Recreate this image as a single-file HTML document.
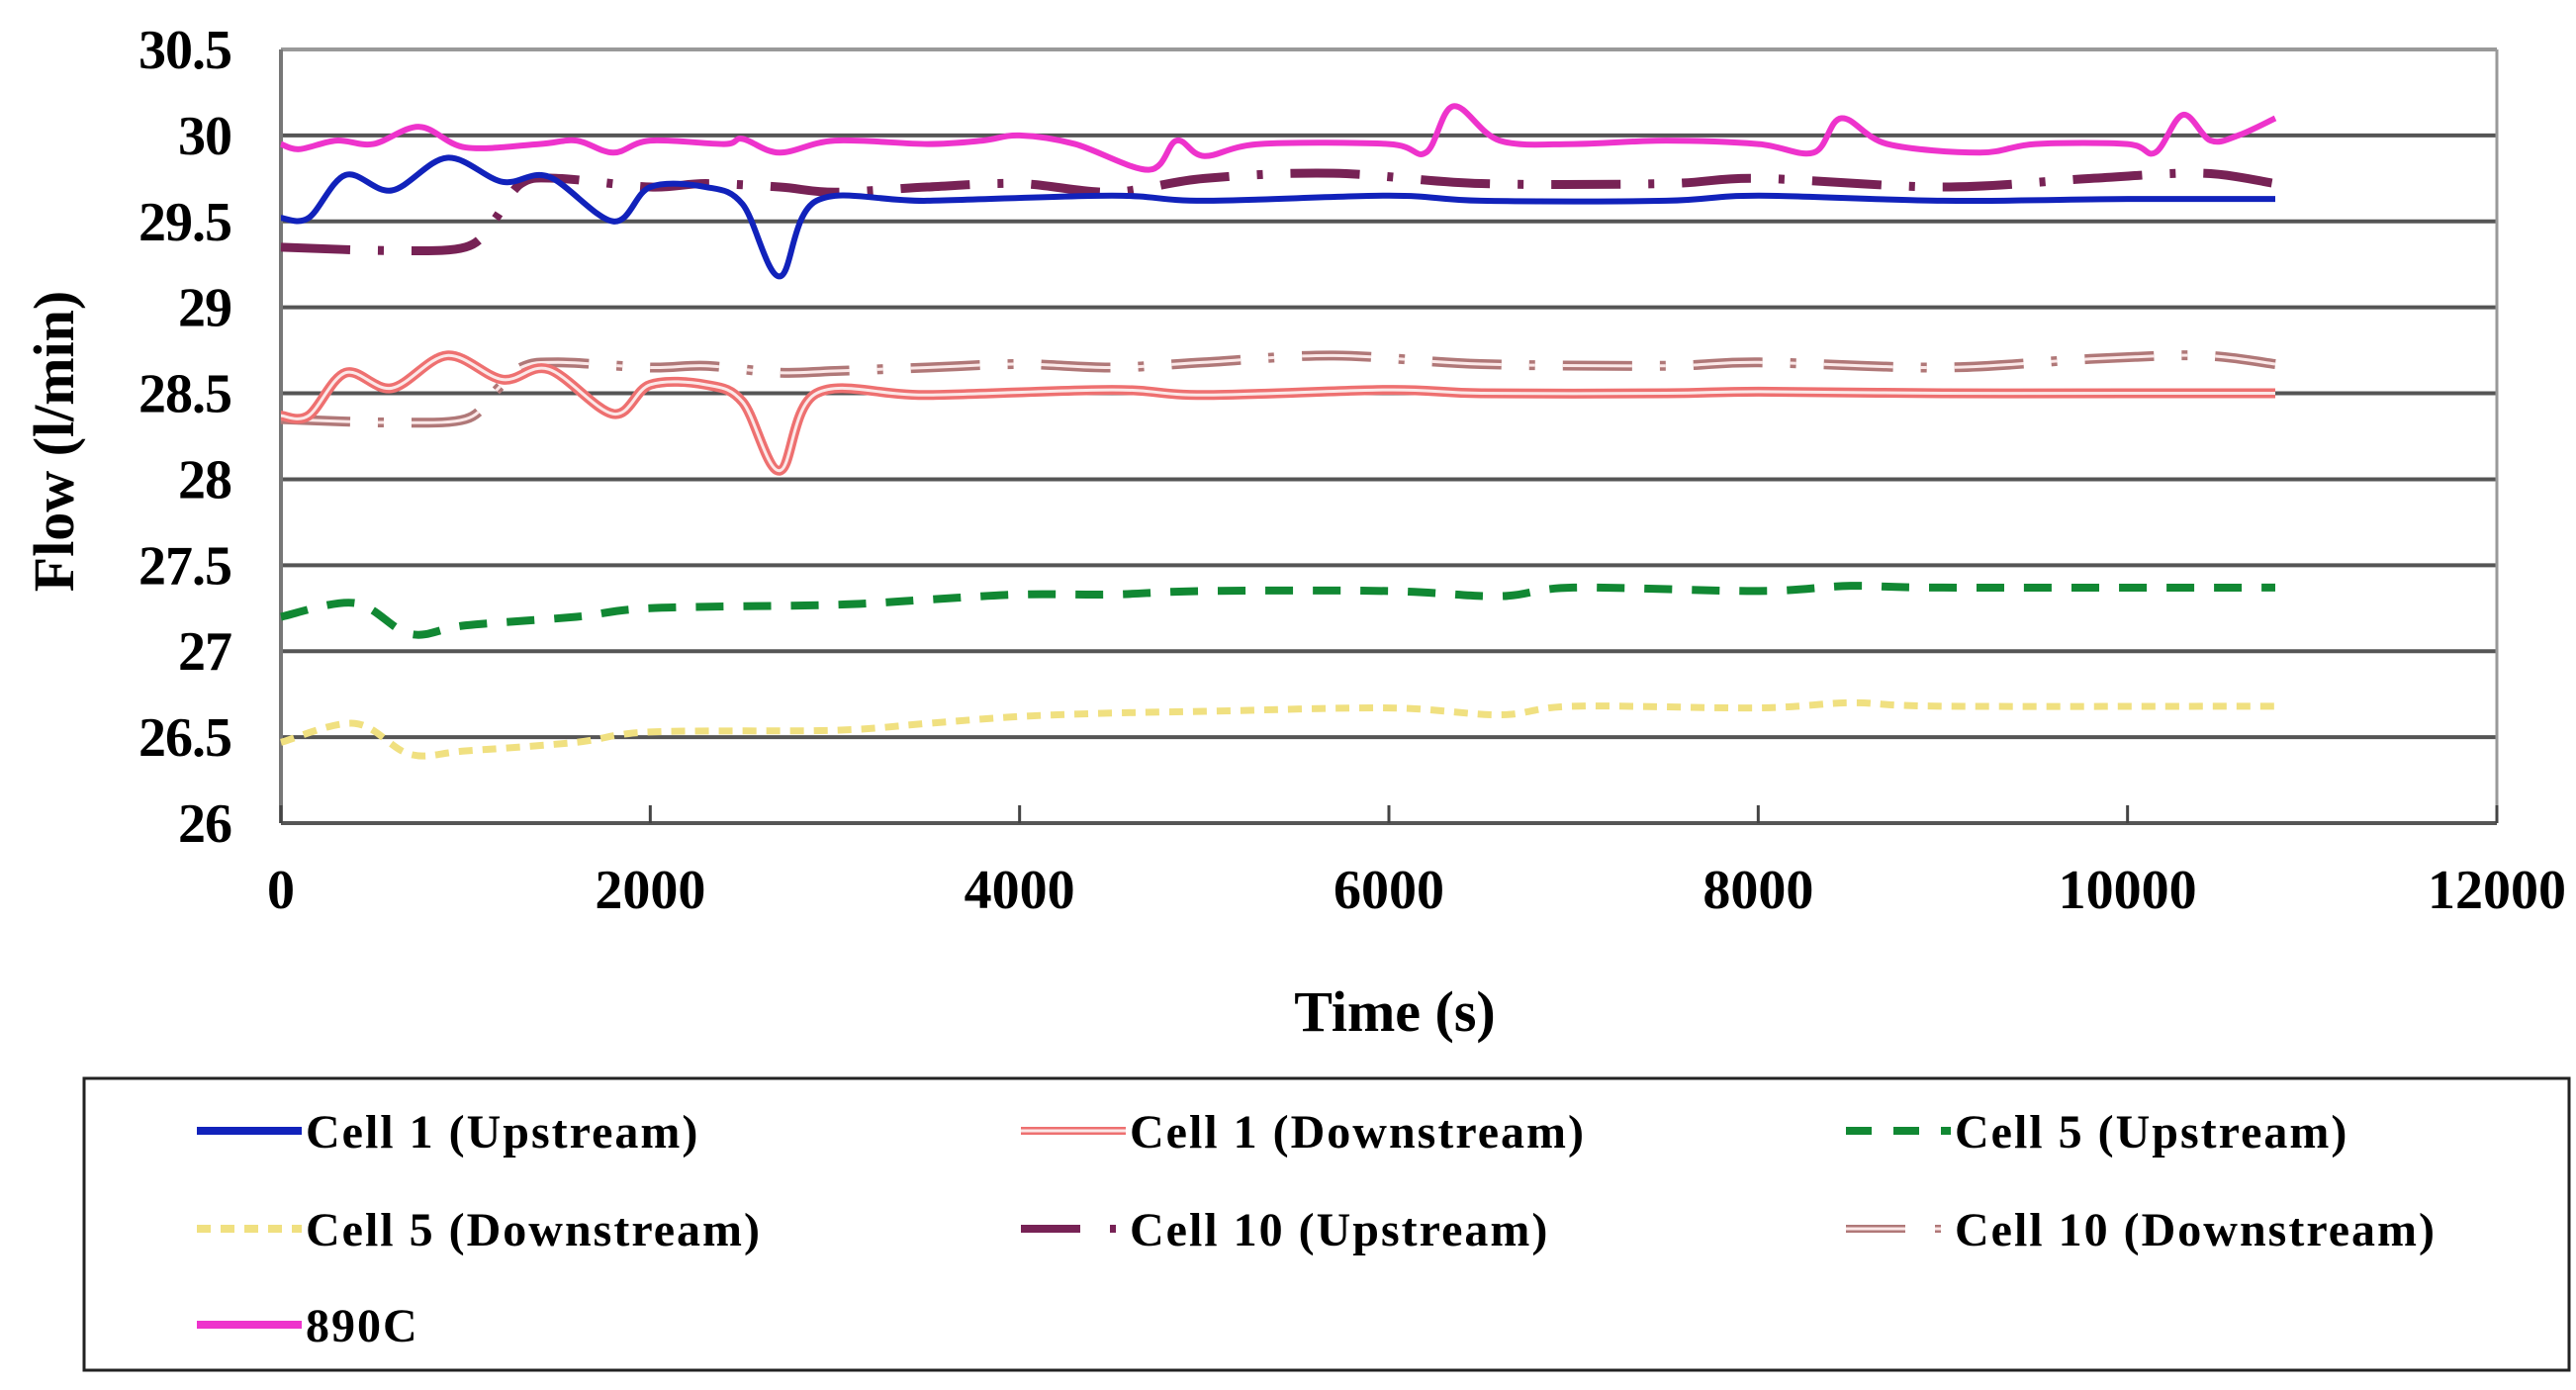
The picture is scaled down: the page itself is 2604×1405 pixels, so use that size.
<!DOCTYPE html>
<html><head><meta charset="utf-8"><style>
html,body{margin:0;padding:0;background:#fff;}
svg{display:block;}
text{font-family:"Liberation Serif",serif;font-weight:bold;fill:#000;}
</style></head><body>
<svg id="chart" width="2604" height="1405" viewBox="0 0 2604 1405" xmlns="http://www.w3.org/2000/svg">
<g id="grid"></g>
<g id="axes"></g>
<g id="series"></g>
<text x="1410" y="1042" font-size="58" text-anchor="middle">Time  (s)</text>
<text transform="translate(74,446) rotate(-90)" font-size="58" text-anchor="middle">Flow (l/min)</text>
<rect x="85" y="1090" width="2512" height="295" fill="#fff" stroke="#222" stroke-width="3"/>
<g id="legend"></g>
</svg>
<script>
const xTicks=[0,2000,4000,6000,8000,10000,12000];
const yTicks=[26,26.5,27,27.5,28,28.5,29,29.5,30,30.5];
const t890=[0,100,300,500,750,1000,1400,1600,1800,2000,2400,2500,2700,3000,3500,3800,4000,4300,4700,4850,5000,5300,6000,6200,6350,6600,7000,7500,8000,8300,8450,8700,9200,9500,10000,10150,10300,10450,10600,10800];
const v890=[29.95,29.92,29.97,29.95,30.05,29.93,29.95,29.97,29.9,29.97,29.95,29.98,29.9,29.97,29.95,29.97,30.0,29.95,29.8,29.97,29.88,29.95,29.95,29.9,30.17,29.97,29.95,29.97,29.95,29.9,30.1,29.95,29.9,29.95,29.95,29.9,30.12,29.97,30.0,30.1];
const tC1=[0,150,350,600,900,1200,1450,1800,2000,2300,2500,2700,2900,3500,4500,5000,6000,6500,7500,8000,9000,10000,10800];
const vC1Up=[29.52,29.52,29.77,29.68,29.87,29.73,29.76,29.5,29.7,29.7,29.6,29.18,29.62,29.62,29.65,29.62,29.65,29.62,29.62,29.65,29.62,29.63,29.63];
const vC1Down=[28.37,28.37,28.62,28.53,28.72,28.58,28.64,28.38,28.55,28.55,28.45,28.05,28.5,28.49,28.52,28.49,28.52,28.5,28.5,28.51,28.5,28.5,28.5];
const tC10=[0,600,1000,1150,1300,1500,2000,2300,2700,3000,3500,4000,4500,5000,5700,6500,7500,8000,9000,9800,10400,10800];
const vC10Up=[29.35,29.33,29.35,29.5,29.72,29.75,29.7,29.72,29.7,29.67,29.7,29.72,29.67,29.75,29.78,29.72,29.72,29.75,29.7,29.75,29.78,29.72];
const vC10Down=[28.35,28.33,28.35,28.5,28.65,28.68,28.65,28.66,28.62,28.63,28.65,28.67,28.65,28.68,28.72,28.67,28.66,28.68,28.65,28.7,28.72,28.67];
const tC5=[0,400,700,1000,1600,2000,3000,3500,4000,4500,5000,6000,6600,7000,8000,8500,9000,10800];
const vC5Up=[27.2,27.28,27.1,27.15,27.2,27.25,27.27,27.3,27.33,27.33,27.35,27.35,27.32,27.37,27.35,27.38,27.37,27.37];
const vC5Down=[26.47,26.58,26.4,26.42,26.47,26.53,26.54,26.58,26.62,26.64,26.65,26.67,26.63,26.68,26.67,26.7,26.68,26.68];

const L=284,R=2524,T=50,B=832;
const X=v=>L+(v/12000)*(R-L);
const Y=v=>B-(v-26)/4.5*(B-T);
const NS="http://www.w3.org/2000/svg";
function mk(tag,attrs,parent){const e=document.createElementNS(NS,tag);for(const k in attrs)e.setAttribute(k,attrs[k]);parent.appendChild(e);return e;}
const grid=document.getElementById('grid'),axes=document.getElementById('axes'),series=document.getElementById('series'),legend=document.getElementById('legend');
yTicks.forEach(v=>{
  const l=mk('line',{x1:L,x2:R,y1:Y(v),y2:Y(v),stroke:v===30.5?'#999':'#555','stroke-width':4},grid);
  
  
  const t=mk('text',{x:234,y:Y(v)+19,'font-size':56,'text-anchor':'end','letter-spacing':-1},axes);
  t.textContent=String(v);
  
  
});
mk('line',{x1:L,x2:L,y1:T,y2:B,stroke:'#777','stroke-width':4},axes);
mk('line',{x1:R,x2:R,y1:T,y2:B,stroke:'#999','stroke-width':3},axes);
mk('line',{x1:L,x2:R,y1:B,y2:B,stroke:'#555','stroke-width':4},axes);
xTicks.forEach(v=>{
  const tk=mk('line',{x1:X(v),x2:X(v),y1:B-18,y2:B,stroke:'#444','stroke-width':3},axes);
  
  
  const t=mk('text',{x:X(v),y:918,'font-size':56,'text-anchor':'middle'},axes);
  t.textContent=String(v);
  
  
});
function pathD(ts,vs){
  const p=ts.map((t,i)=>[X(t),Y(vs[i])]);
  let d='M'+p[0][0]+','+p[0][1];
  for(let i=0;i<p.length-1;i++){
    const p0=p[Math.max(0,i-1)],p1=p[i],p2=p[i+1],p3=p[Math.min(p.length-1,i+2)];
    const c1=[p1[0]+(p2[0]-p0[0])/6,p1[1]+(p2[1]-p0[1])/6];
    const c2=[p2[0]-(p3[0]-p1[0])/6,p2[1]-(p3[1]-p1[1])/6];
    d+=` C${c1[0]},${c1[1]} ${c2[0]},${c2[1]} ${p2[0]},${p2[1]}`;
  }
  return d;
}
const defs=[
 {name:'cell5-downstream',t:tC5,v:vC5Down,c:'#f0e080',w:7,dash:'14 10',dbl:false},
 {name:'cell5-upstream',t:tC5,v:vC5Up,c:'#118833',w:8,dash:'28 20',dbl:false},
 {name:'cell10-downstream',t:tC10,v:vC10Down,c:'#b07878',w:10,dash:'70 28 6 28',dbl:true},
 {name:'cell1-downstream',t:tC1,v:vC1Down,c:'#ee7070',w:10,dash:null,dbl:true},
 {name:'cell10-upstream',t:tC10,v:vC10Up,c:'#772255',w:9,dash:'70 28 6 28',dbl:false},
 {name:'cell1-upstream',t:tC1,v:vC1Up,c:'#1122bb',w:6,dash:null,dbl:false},
 {name:'series-890c',t:t890,v:v890,c:'#ee33cc',w:6,dash:null,dbl:false}
];
defs.forEach(s=>{
  const d=pathD(s.t,s.v);
  const a={d:d,fill:'none',stroke:s.c,'stroke-width':s.w,'stroke-linejoin':'round'};
  if(s.dash)a['stroke-dasharray']=s.dash;
  const p=mk('path',a,series);
  
  
  if(s.dbl){
    const b={d:d,fill:'none',stroke:'#fbe8e8','stroke-width':3};
    if(s.dash)b['stroke-dasharray']=s.dash;
    mk('path',b,series);
  }
});
const leg=[
 {label:'Cell 1 (Upstream)',c:'#1122bb',dash:null,dbl:false,x:199,y:1143},
 {label:'Cell 1 (Downstream)',c:'#ee7070',dash:null,dbl:true,x:1032,y:1143},
 {label:'Cell 5 (Upstream)',c:'#118833',dash:'26 22',dbl:false,x:1866,y:1143},
 {label:'Cell 5 (Downstream)',c:'#f0e080',dash:'14 10',dbl:false,x:199,y:1242},
 {label:'Cell 10 (Upstream)',c:'#772255',dash:'60 30 6 10',dbl:false,x:1032,y:1242},
 {label:'Cell 10 (Downstream)',c:'#b07878',dash:'60 30 6 10',dbl:true,x:1866,y:1242},
 {label:'890C',c:'#ee33cc',dash:null,dbl:false,x:199,y:1339}
];
leg.forEach(e=>{
  const a={x1:e.x,x2:e.x+106,y1:e.y,y2:e.y,stroke:e.c,'stroke-width':8};
  if(e.dash)a['stroke-dasharray']=e.dash;
  const l=mk('line',a,legend);
  
  
  if(e.dbl){const b={x1:e.x,x2:e.x+106,y1:e.y,y2:e.y,stroke:'#fbe8e8','stroke-width':3};if(e.dash)b['stroke-dasharray']=e.dash;mk('line',b,legend);}
  const t=mk('text',{x:e.x+110,y:e.y+17,'font-size':48,'letter-spacing':2},legend);
  t.textContent=e.label;
  
  
});
</script>
</body></html>
